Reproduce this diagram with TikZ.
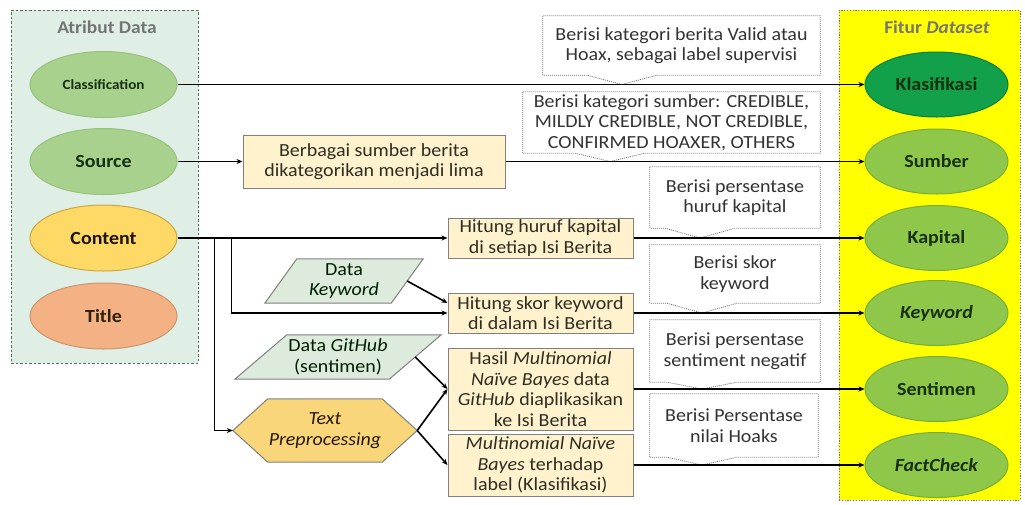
\documentclass[tikz,border=0pt]{standalone}
\usepackage{fontspec}
\setmainfont{Carlito}[FakeStretch=1.08]
\usetikzlibrary{shapes.geometric,arrows.meta,backgrounds,calc}
\definecolor{lcfill}{HTML}{DFEFE6}
\definecolor{lcline}{HTML}{4F6F5F}
\definecolor{rcfill}{HTML}{FFFF00}
\definecolor{lgreen}{HTML}{A9D18E}
\definecolor{lgreenl}{HTML}{98C07E}
\definecolor{cntfill}{HTML}{FFD966}
\definecolor{cntline}{HTML}{C9A844}
\definecolor{ttlfill}{HTML}{F4B183}
\definecolor{ttlline}{HTML}{C99670}
\definecolor{klsfill}{HTML}{12A14A}
\definecolor{klsline}{HTML}{0B7F38}
\definecolor{rgreen}{HTML}{8FC74A}
\definecolor{rgreenl}{HTML}{78AD36}
\definecolor{boxfill}{HTML}{FFF2CC}
\definecolor{boxline}{HTML}{808080}
\definecolor{parfill}{HTML}{DDEBDC}
\definecolor{hexfill}{HTML}{FAD67A}
\definecolor{txtdark}{HTML}{2E2E24}
\definecolor{ellgreen}{HTML}{163010}
\definecolor{titlegray}{HTML}{757575}
\newcommand\callbox[2]{%
  \draw[cline] (#1.south west) -- (#1.north west) -- (#1.north east) -- (#1.south east)
    -- ($(#1.south east -| #2)+(35,0)$) -- (#2) -- ($(#1.south east -| #2)+(-35,0)$) -- cycle;}
\begin{document}
\begin{tikzpicture}[x=1pt,y=-1pt,
  txt/.style={font=\fontsize{18.5}{20.5}\selectfont, text=txtdark, align=center, inner sep=0pt},
  ell/.style={ellipse, draw, line width=1pt, inner sep=0pt, font=\fontsize{18.5}{20.5}\selectfont\bfseries, text=ellgreen},
  lell/.style={ell, minimum width=147pt, minimum height=66pt, fill=lgreen, draw=lgreenl},
  rell/.style={ell, minimum width=143pt, minimum height=65pt, fill=rgreen, draw=rgreenl},
  pbox/.style={txt, rectangle, draw=boxline, fill=boxfill, line width=1pt},
  ctext/.style={txt, text=black!80, rectangle},
  cline/.style={draw=black!55, fill=white, line width=0.8pt, dash pattern=on 1pt off 1pt},
  shapeline/.style={draw=boxline, line width=1pt},
  arr/.style={draw=black, line width=1.6pt, -{Stealth[length=6pt,width=5pt]}},
]
\useasboundingbox (0,0) rectangle (1025,504);

% containers
\node[draw=lcline, fill=lcfill, dash pattern=on 2.5pt off 2pt, line width=1pt, minimum width=187pt, minimum height=353pt, inner sep=0pt] (lc) at (104.5,186.5) {};
\node[draw=black!55, fill=rcfill, line width=1pt, dash pattern=on 1.2pt off 1.6pt, minimum width=181pt, minimum height=490pt, inner sep=0pt] (rc) at (929.5,255) {};
\node[font=\fontsize{18}{20}\selectfont\bfseries, text=titlegray] (lct) at (107,27) {Atribut Data};
\node[font=\fontsize{18}{20}\selectfont\bfseries, text=titlegray] (rct) at (937,27) {Fitur \textit{Dataset}};

% left ellipses
\node[lell, font=\fontsize{14}{16}\selectfont\bfseries] (cls) at (103.5,84.5) {Classification};
\node[lell] (src) at (103.5,161.5) {Source};
\node[lell, fill=cntfill, draw=cntline, text=black!85!brown] (cnt) at (103.5,238) {Content};
\node[lell, fill=ttlfill, draw=ttlline, text=black!75!brown] (ttl) at (103.5,316) {Title};

% right ellipses
\node[rell, fill=klsfill, draw=klsline] (kls) at (936.5,84.5) {Klasifikasi};
\node[rell] (smb) at (936.5,161.5) {Sumber};
\node[rell] (kap) at (936.5,238) {Kapital};
\node[rell] (kwd) at (936.5,313) {\textit{Keyword}};
\node[rell] (snt) at (936.5,389) {Sentimen};
\node[rell] (fc) at (936.5,465) {\textit{FactCheck}};

% process boxes
\node[pbox, minimum width=262pt, minimum height=53pt] (sb) at (374,161.5) {Berbagai sumber berita\\dikategorikan menjadi lima};
\node[pbox, minimum width=185pt, minimum height=40pt] (hk) at (540.5,238) {Hitung huruf kapital\\di setiap Isi Berita};
\node[pbox, minimum width=185pt, minimum height=40pt] (hs) at (540.5,313) {Hitung skor keyword\\di dalam Isi Berita};
\node[pbox, minimum width=185pt, minimum height=82pt] (hasil) at (540.5,389) {Hasil \textit{Multinomial}\\\textit{Naïve Bayes} data\\\textit{GitHub} diaplikasikan\\ke Isi Berita};
\node[pbox, minimum width=185pt, minimum height=62pt] (mnb) at (540.5,465) {\textit{Multinomial Naïve}\\\textit{Bayes} terhadap\\label (Klasifikasi)};

% data inputs
\node[txt, text=black!70!green!40!black, minimum width=126pt, minimum height=44pt] (kw) at (344,281) {Data\\\textit{Keyword}};
\node[txt, text=black!70!green!40!black, minimum width=154pt, minimum height=44pt] (gh) at (338,357) {Data \textit{GitHub}\\(sentimen)};
\node[txt, text=black!80!brown, minimum width=184pt, minimum height=63pt] (tp) at (325,430.5) {\textit{Text}\\\textit{Preprocessing}};

% callouts
\node[ctext, minimum width=277pt, minimum height=59pt] (c1) at (681.5,45.5) {Berisi kategori berita Valid atau\\Hoax, sebagai label supervisi};
\node[ctext, minimum width=297pt, minimum height=61pt] (c2) at (671.5,122.5) {Berisi kategori sumber: CREDIBLE,\\MILDLY CREDIBLE, NOT CREDIBLE,\\CONFIRMED HOAXER, OTHERS};
\node[ctext, minimum width=170pt, minimum height=61pt] (c3) at (735,197.5) {Berisi persentase\\huruf kapital};
\node[ctext, minimum width=170pt, minimum height=58pt] (c4) at (735,274) {Berisi skor\\keyword};
\node[ctext, minimum width=170pt, minimum height=62pt] (c5) at (735,351) {Berisi persentase\\sentiment negatif};
\node[ctext, minimum width=168pt, minimum height=63pt] (c6) at (734,425.5) {Berisi Persentase\\nilai Hoaks};
\coordinate (t1) at (622,84.5);
\coordinate (t2) at (610,161.5);
\coordinate (t3) at (700,238);
\coordinate (t4) at (702,313);
\coordinate (t5) at (702,389);
\coordinate (t6) at (702,465);

\begin{scope}[on background layer]
  \callbox{c1}{t1}
  \callbox{c2}{t2}
  \callbox{c3}{t3}
  \callbox{c4}{t4}
  \callbox{c5}{t5}
  \callbox{c6}{t6}
  \draw[shapeline, fill=parfill] ($(kw.north west)+(16,0)$) -- ($(kw.north east)+(16,0)$) -- ($(kw.south east)+(-16,0)$) -- ($(kw.south west)+(-16,0)$) -- cycle;
  \draw[shapeline, fill=parfill] ($(gh.north west)+(26,0)$) -- ($(gh.north east)+(26,0)$) -- ($(gh.south east)+(-26,0)$) -- ($(gh.south west)+(-26,0)$) -- cycle;
  \draw[shapeline, fill=hexfill] (tp.west) -- ($(tp.north west)+(35,0)$) -- ($(tp.north east)+(-35,0)$) -- (tp.east) -- ($(tp.south east)+(-35,0)$) -- ($(tp.south west)+(35,0)$) -- cycle;
\end{scope}

% connectors
\draw[arr] (cls) -- (kls);
\draw[arr] (src) -- (sb);
\draw[arr] (sb) -- (smb);
\draw[arr] (cnt) -- (hk);
\draw[arr] (hk) -- (kap);
\draw[arr] ($(cnt.east)+(54,0)$) |- (hs.west);
\draw[arr] ($(cnt.east)+(37,0)$) |- (tp.west);
\draw[arr] (kw.east) -- ([yshift=10pt]hs.west);
\draw[arr] (hs) -- (kwd);
\draw[arr] (gh.east) -- (hasil.west);
\draw[arr] (tp.east) -- (hasil.west);
\draw[arr] (tp.east) -- (mnb.west);
\draw[arr] (hasil) -- (snt);
\draw[arr] (mnb) -- (fc);
\end{tikzpicture}
\end{document}
